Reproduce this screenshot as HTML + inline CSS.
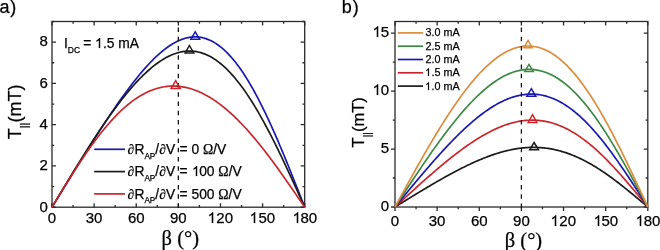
<!DOCTYPE html>
<html><head><meta charset="utf-8"><style>
html,body{margin:0;padding:0;background:#fff;}
body{width:660px;height:250px;overflow:hidden;}
svg{display:block;will-change:transform;filter:blur(0.35px);}
svg text{stroke:#000;stroke-width:0.25px;}
svg text tspan.t1{stroke:none;fill:transparent;}
</style></head><body>
<svg width="660" height="250" viewBox="0 0 660 250">
<rect width="660" height="250" fill="#fff"/>
<rect x="52.00" y="21.50" width="252.70" height="185.70" fill="none" stroke="#2a2a2a" stroke-width="1.3"/>
<path d="M52.00,207.20 L52.00,203.20 M52.00,21.50 L52.00,25.50 M73.06,207.20 L73.06,205.00 M73.06,21.50 L73.06,23.70 M94.12,207.20 L94.12,203.20 M94.12,21.50 L94.12,25.50 M115.17,207.20 L115.17,205.00 M115.17,21.50 L115.17,23.70 M136.23,207.20 L136.23,203.20 M136.23,21.50 L136.23,25.50 M157.29,207.20 L157.29,205.00 M157.29,21.50 L157.29,23.70 M178.35,207.20 L178.35,203.20 M178.35,21.50 L178.35,25.50 M199.41,207.20 L199.41,205.00 M199.41,21.50 L199.41,23.70 M220.47,207.20 L220.47,203.20 M220.47,21.50 L220.47,25.50 M241.53,207.20 L241.53,205.00 M241.53,21.50 L241.53,23.70 M262.58,207.20 L262.58,203.20 M262.58,21.50 L262.58,25.50 M283.64,207.20 L283.64,205.00 M283.64,21.50 L283.64,23.70 M304.70,207.20 L304.70,203.20 M304.70,21.50 L304.70,25.50 M52.00,207.20 L56.00,207.20 M304.70,207.20 L300.70,207.20 M52.00,186.57 L54.20,186.57 M304.70,186.57 L302.50,186.57 M52.00,165.93 L56.00,165.93 M304.70,165.93 L300.70,165.93 M52.00,145.30 L54.20,145.30 M304.70,145.30 L302.50,145.30 M52.00,124.67 L56.00,124.67 M304.70,124.67 L300.70,124.67 M52.00,104.03 L54.20,104.03 M304.70,104.03 L302.50,104.03 M52.00,83.40 L56.00,83.40 M304.70,83.40 L300.70,83.40 M52.00,62.77 L54.20,62.77 M304.70,62.77 L302.50,62.77 M52.00,42.13 L56.00,42.13 M304.70,42.13 L300.70,42.13 M52.00,21.50 L54.20,21.50 M304.70,21.50 L302.50,21.50" stroke="#2a2a2a" stroke-width="1.3" fill="none"/>
<path d="M52.00,207.20 L53.40,204.91 L54.81,202.62 L56.21,200.33 L57.62,198.04 L59.02,195.75 L60.42,193.46 L61.83,191.17 L63.23,188.88 L64.63,186.60 L66.04,184.31 L67.44,182.03 L68.85,179.75 L70.25,177.47 L71.65,175.20 L73.06,172.92 L74.46,170.65 L75.87,168.39 L77.27,166.12 L78.67,163.86 L80.08,161.60 L81.48,159.35 L82.89,157.10 L84.29,154.86 L85.69,152.62 L87.10,150.39 L88.50,148.16 L89.91,145.94 L91.31,143.72 L92.71,141.51 L94.12,139.31 L95.52,137.11 L96.92,134.92 L98.33,132.74 L99.73,130.57 L101.14,128.41 L102.54,126.25 L103.94,124.11 L105.35,121.97 L106.75,119.85 L108.16,117.74 L109.56,115.64 L110.96,113.55 L112.37,111.47 L113.77,109.41 L115.17,107.36 L116.58,105.33 L117.98,103.31 L119.39,101.30 L120.79,99.31 L122.19,97.34 L123.60,95.39 L125.00,93.45 L126.41,91.54 L127.81,89.64 L129.21,87.76 L130.62,85.90 L132.02,84.07 L133.43,82.26 L134.83,80.47 L136.23,78.70 L137.64,76.96 L139.04,75.24 L140.44,73.56 L141.85,71.89 L143.25,70.26 L144.66,68.65 L146.06,67.07 L147.46,65.53 L148.87,64.01 L150.27,62.53 L151.68,61.08 L153.08,59.66 L154.48,58.27 L155.89,56.93 L157.29,55.61 L158.70,54.34 L160.10,53.10 L161.50,51.90 L162.91,50.74 L164.31,49.63 L165.72,48.55 L167.12,47.51 L168.52,46.52 L169.93,45.57 L171.33,44.67 L172.73,43.81 L174.14,43.00 L175.54,42.24 L176.95,41.52 L178.35,40.85 L179.75,40.24 L181.16,39.67 L182.56,39.15 L183.97,38.69 L185.37,38.28 L186.77,37.92 L188.18,37.61 L189.58,37.36 L190.98,37.17 L192.39,37.03 L193.79,36.95 L195.20,36.92 L196.60,36.96 L198.00,37.05 L199.41,37.20 L200.81,37.41 L202.22,37.68 L203.62,38.01 L205.02,38.40 L206.43,38.85 L207.83,39.37 L209.24,39.94 L210.64,40.58 L212.04,41.28 L213.45,42.04 L214.85,42.87 L216.25,43.76 L217.66,44.71 L219.06,45.73 L220.47,46.81 L221.87,47.95 L223.27,49.15 L224.68,50.42 L226.08,51.76 L227.49,53.15 L228.89,54.61 L230.29,56.13 L231.70,57.72 L233.10,59.36 L234.51,61.07 L235.91,62.84 L237.31,64.67 L238.72,66.56 L240.12,68.52 L241.53,70.53 L242.93,72.60 L244.33,74.73 L245.74,76.92 L247.14,79.16 L248.54,81.47 L249.95,83.82 L251.35,86.24 L252.76,88.70 L254.16,91.22 L255.56,93.80 L256.97,96.42 L258.37,99.09 L259.78,101.82 L261.18,104.59 L262.58,107.41 L263.99,110.27 L265.39,113.19 L266.79,116.14 L268.20,119.14 L269.60,122.17 L271.01,125.25 L272.41,128.37 L273.81,131.52 L275.22,134.71 L276.62,137.93 L278.03,141.19 L279.43,144.47 L280.83,147.79 L282.24,151.14 L283.64,154.51 L285.05,157.91 L286.45,161.33 L287.85,164.77 L289.26,168.23 L290.66,171.72 L292.06,175.21 L293.47,178.73 L294.87,182.26 L296.28,185.80 L297.68,189.35 L299.08,192.91 L300.49,196.48 L301.89,200.05 L303.30,203.62 L304.70,207.20" fill="none" stroke="#1919b0" stroke-width="1.7" stroke-linejoin="round"/>
<path d="M52.00,207.20 L53.40,204.86 L54.81,202.51 L56.21,200.17 L57.62,197.83 L59.02,195.49 L60.42,193.15 L61.83,190.82 L63.23,188.49 L64.63,186.16 L66.04,183.83 L67.44,181.51 L68.85,179.20 L70.25,176.88 L71.65,174.58 L73.06,172.28 L74.46,169.99 L75.87,167.70 L77.27,165.42 L78.67,163.15 L80.08,160.88 L81.48,158.63 L82.89,156.38 L84.29,154.14 L85.69,151.92 L87.10,149.70 L88.50,147.49 L89.91,145.30 L91.31,143.12 L92.71,140.95 L94.12,138.79 L95.52,136.64 L96.92,134.51 L98.33,132.39 L99.73,130.29 L101.14,128.20 L102.54,126.13 L103.94,124.07 L105.35,122.03 L106.75,120.01 L108.16,118.01 L109.56,116.02 L110.96,114.05 L112.37,112.10 L113.77,110.17 L115.17,108.27 L116.58,106.38 L117.98,104.51 L119.39,102.67 L120.79,100.84 L122.19,99.04 L123.60,97.27 L125.00,95.52 L126.41,93.79 L127.81,92.09 L129.21,90.41 L130.62,88.76 L132.02,87.14 L133.43,85.55 L134.83,83.98 L136.23,82.44 L137.64,80.93 L139.04,79.46 L140.44,78.01 L141.85,76.59 L143.25,75.21 L144.66,73.85 L146.06,72.53 L147.46,71.25 L148.87,70.00 L150.27,68.78 L151.68,67.60 L153.08,66.45 L154.48,65.34 L155.89,64.27 L157.29,63.23 L158.70,62.23 L160.10,61.27 L161.50,60.36 L162.91,59.48 L164.31,58.64 L165.72,57.84 L167.12,57.08 L168.52,56.37 L169.93,55.70 L171.33,55.07 L172.73,54.49 L174.14,53.95 L175.54,53.45 L176.95,53.00 L178.35,52.59 L179.75,52.24 L181.16,51.92 L182.56,51.66 L183.97,51.44 L185.37,51.27 L186.77,51.15 L188.18,51.08 L189.58,51.06 L190.98,51.08 L192.39,51.16 L193.79,51.28 L195.20,51.46 L196.60,51.69 L198.00,51.97 L199.41,52.29 L200.81,52.68 L202.22,53.11 L203.62,53.59 L205.02,54.13 L206.43,54.72 L207.83,55.36 L209.24,56.05 L210.64,56.80 L212.04,57.60 L213.45,58.45 L214.85,59.36 L216.25,60.31 L217.66,61.32 L219.06,62.39 L220.47,63.50 L221.87,64.67 L223.27,65.89 L224.68,67.16 L226.08,68.49 L227.49,69.86 L228.89,71.29 L230.29,72.77 L231.70,74.30 L233.10,75.88 L234.51,77.51 L235.91,79.19 L237.31,80.92 L238.72,82.69 L240.12,84.52 L241.53,86.39 L242.93,88.32 L244.33,90.29 L245.74,92.30 L247.14,94.36 L248.54,96.47 L249.95,98.62 L251.35,100.81 L252.76,103.05 L254.16,105.33 L255.56,107.65 L256.97,110.01 L258.37,112.41 L259.78,114.85 L261.18,117.33 L262.58,119.85 L263.99,122.40 L265.39,124.98 L266.79,127.61 L268.20,130.26 L269.60,132.95 L271.01,135.66 L272.41,138.41 L273.81,141.19 L275.22,143.99 L276.62,146.83 L278.03,149.68 L279.43,152.56 L280.83,155.47 L282.24,158.40 L283.64,161.34 L285.05,164.31 L286.45,167.30 L287.85,170.30 L289.26,173.32 L290.66,176.35 L292.06,179.40 L293.47,182.46 L294.87,185.53 L296.28,188.61 L297.68,191.69 L299.08,194.79 L300.49,197.88 L301.89,200.99 L303.30,204.09 L304.70,207.20" fill="none" stroke="#1c1c1c" stroke-width="1.7" stroke-linejoin="round"/>
<path d="M52.00,207.20 L53.40,204.89 L54.81,202.58 L56.21,200.27 L57.62,197.96 L59.02,195.66 L60.42,193.36 L61.83,191.07 L63.23,188.79 L64.63,186.51 L66.04,184.24 L67.44,181.98 L68.85,179.73 L70.25,177.50 L71.65,175.27 L73.06,173.06 L74.46,170.86 L75.87,168.68 L77.27,166.51 L78.67,164.36 L80.08,162.22 L81.48,160.11 L82.89,158.01 L84.29,155.93 L85.69,153.88 L87.10,151.84 L88.50,149.83 L89.91,147.83 L91.31,145.87 L92.71,143.92 L94.12,142.00 L95.52,140.11 L96.92,138.24 L98.33,136.40 L99.73,134.59 L101.14,132.80 L102.54,131.04 L103.94,129.31 L105.35,127.61 L106.75,125.94 L108.16,124.30 L109.56,122.69 L110.96,121.12 L112.37,119.57 L113.77,118.06 L115.17,116.57 L116.58,115.12 L117.98,113.71 L119.39,112.33 L120.79,110.98 L122.19,109.66 L123.60,108.38 L125.00,107.14 L126.41,105.93 L127.81,104.75 L129.21,103.61 L130.62,102.50 L132.02,101.43 L133.43,100.40 L134.83,99.40 L136.23,98.44 L137.64,97.51 L139.04,96.62 L140.44,95.76 L141.85,94.94 L143.25,94.16 L144.66,93.42 L146.06,92.71 L147.46,92.03 L148.87,91.40 L150.27,90.79 L151.68,90.23 L153.08,89.70 L154.48,89.21 L155.89,88.75 L157.29,88.33 L158.70,87.95 L160.10,87.60 L161.50,87.29 L162.91,87.01 L164.31,86.77 L165.72,86.56 L167.12,86.39 L168.52,86.26 L169.93,86.16 L171.33,86.09 L172.73,86.06 L174.14,86.07 L175.54,86.11 L176.95,86.18 L178.35,86.29 L179.75,86.43 L181.16,86.61 L182.56,86.82 L183.97,87.06 L185.37,87.34 L186.77,87.65 L188.18,87.99 L189.58,88.37 L190.98,88.78 L192.39,89.22 L193.79,89.70 L195.20,90.21 L196.60,90.75 L198.00,91.32 L199.41,91.92 L200.81,92.56 L202.22,93.22 L203.62,93.92 L205.02,94.65 L206.43,95.41 L207.83,96.20 L209.24,97.02 L210.64,97.87 L212.04,98.75 L213.45,99.66 L214.85,100.60 L216.25,101.57 L217.66,102.57 L219.06,103.60 L220.47,104.65 L221.87,105.74 L223.27,106.85 L224.68,107.99 L226.08,109.16 L227.49,110.36 L228.89,111.58 L230.29,112.83 L231.70,114.10 L233.10,115.41 L234.51,116.73 L235.91,118.09 L237.31,119.47 L238.72,120.87 L240.12,122.30 L241.53,123.75 L242.93,125.23 L244.33,126.73 L245.74,128.26 L247.14,129.80 L248.54,131.37 L249.95,132.97 L251.35,134.58 L252.76,136.21 L254.16,137.87 L255.56,139.55 L256.97,141.24 L258.37,142.96 L259.78,144.69 L261.18,146.45 L262.58,148.22 L263.99,150.01 L265.39,151.82 L266.79,153.64 L268.20,155.48 L269.60,157.34 L271.01,159.21 L272.41,161.10 L273.81,163.00 L275.22,164.91 L276.62,166.84 L278.03,168.78 L279.43,170.73 L280.83,172.69 L282.24,174.67 L283.64,176.65 L285.05,178.64 L286.45,180.64 L287.85,182.66 L289.26,184.67 L290.66,186.70 L292.06,188.73 L293.47,190.77 L294.87,192.81 L296.28,194.86 L297.68,196.91 L299.08,198.96 L300.49,201.02 L301.89,203.08 L303.30,205.14 L304.70,207.20" fill="none" stroke="#c8262c" stroke-width="1.7" stroke-linejoin="round"/>
<line x1="178.35" y1="207.90" x2="178.35" y2="21.50" stroke="#151515" stroke-width="1.3" stroke-dasharray="4.5 4.76"/>
<path d="M195.25,31.80 L199.60,39.20 L190.90,39.20 Z" fill="none" stroke="#1919b0" stroke-width="1.5" stroke-linejoin="miter"/>
<path d="M189.45,45.50 L193.80,53.10 L185.10,53.10 Z" fill="none" stroke="#1c1c1c" stroke-width="1.5" stroke-linejoin="miter"/>
<path d="M175.65,80.70 L180.20,88.60 L171.10,88.60 Z" fill="none" stroke="#c8262c" stroke-width="1.5" stroke-linejoin="miter"/>
<text x="47.80" y="211.57" font-family='"Liberation Sans", sans-serif' font-size="15" text-anchor="end" >0</text>
<text x="47.80" y="170.30" font-family='"Liberation Sans", sans-serif' font-size="15" text-anchor="end" >2</text>
<text x="47.80" y="129.04" font-family='"Liberation Sans", sans-serif' font-size="15" text-anchor="end" >4</text>
<text x="47.80" y="87.77" font-family='"Liberation Sans", sans-serif' font-size="15" text-anchor="end" >6</text>
<text x="47.80" y="45.80" font-family='"Liberation Sans", sans-serif' font-size="15" text-anchor="end" >8</text>
<text x="52.00" y="223.00" font-family='"Liberation Sans", sans-serif' font-size="15" text-anchor="middle" >0</text>
<text x="94.12" y="223.00" font-family='"Liberation Sans", sans-serif' font-size="15" text-anchor="middle" >30</text>
<text x="136.23" y="223.00" font-family='"Liberation Sans", sans-serif' font-size="15" text-anchor="middle" >60</text>
<text x="178.35" y="223.00" font-family='"Liberation Sans", sans-serif' font-size="15" text-anchor="middle" >90</text>
<text x="220.47" y="223.00" font-family='"Liberation Sans", sans-serif' font-size="15" text-anchor="middle" ><tspan class="t1">1</tspan>20</text>
<text x="262.58" y="223.00" font-family='"Liberation Sans", sans-serif' font-size="15" text-anchor="middle" ><tspan class="t1">1</tspan>50</text>
<text x="304.70" y="223.00" font-family='"Liberation Sans", sans-serif' font-size="15" text-anchor="middle" ><tspan class="t1">1</tspan>80</text>
<text x="-0.60" y="13.20" font-family='"Liberation Sans", sans-serif' font-size="18" text-anchor="start" >a<tspan dx="0.9">)</tspan></text>
<text x="180.30" y="244.50" font-family='"Liberation Serif", serif' font-size="20.5" text-anchor="middle" >&#946; (&#176;)</text>
<g transform="translate(20.7,139.3) rotate(-90)"><text x="0" y="0" font-family='"Liberation Sans", sans-serif' font-size="18">T<tspan font-size="11" dy="7">||</tspan><tspan dy="-7">(mT)</tspan></text></g>
<text x="64.0" y="47.5" font-family='"Liberation Sans", sans-serif' font-size="13.8">I<tspan font-size="8.5" dy="5.8">DC</tspan><tspan dy="-5.8" x="83.3">= <tspan class="t1">1</tspan>.5 mA</tspan></text>
<line x1="94.2" y1="149.30" x2="125" y2="149.30" stroke="#1919b0" stroke-width="1.7"/>
<text x="127.6" y="153.90" font-family='"Liberation Sans", sans-serif' font-size="13.8"><tspan font-family='"Liberation Serif", serif'>&#8706;</tspan>R<tspan font-size="8.2" dy="4.6">AP</tspan><tspan dy="-4.6">/</tspan><tspan font-family='"Liberation Serif", serif'>&#8706;</tspan>V<tspan x="179.60">= 0 </tspan><tspan font-family='"Liberation Serif", serif'>&#937;</tspan>/V</text>
<line x1="94.2" y1="171.60" x2="125" y2="171.60" stroke="#1c1c1c" stroke-width="1.7"/>
<text x="127.6" y="176.20" font-family='"Liberation Sans", sans-serif' font-size="13.8"><tspan font-family='"Liberation Serif", serif'>&#8706;</tspan>R<tspan font-size="8.2" dy="4.6">AP</tspan><tspan dy="-4.6">/</tspan><tspan font-family='"Liberation Serif", serif'>&#8706;</tspan>V<tspan x="179.60">= <tspan class="t1">1</tspan>00 </tspan><tspan font-family='"Liberation Serif", serif'>&#937;</tspan>/V</text>
<line x1="94.2" y1="193.90" x2="125" y2="193.90" stroke="#c8262c" stroke-width="1.7"/>
<text x="127.6" y="198.50" font-family='"Liberation Sans", sans-serif' font-size="13.8"><tspan font-family='"Liberation Serif", serif'>&#8706;</tspan>R<tspan font-size="8.2" dy="4.6">AP</tspan><tspan dy="-4.6">/</tspan><tspan font-family='"Liberation Serif", serif'>&#8706;</tspan>V<tspan x="179.60">= 500 </tspan><tspan font-family='"Liberation Serif", serif'>&#937;</tspan>/V</text>
<rect x="395.00" y="21.50" width="252.80" height="185.50" fill="none" stroke="#2a2a2a" stroke-width="1.3"/>
<path d="M395.00,207.00 L395.00,211.00 M395.00,21.50 L395.00,25.50 M416.07,207.00 L416.07,209.20 M416.07,21.50 L416.07,23.70 M437.13,207.00 L437.13,211.00 M437.13,21.50 L437.13,25.50 M458.20,207.00 L458.20,209.20 M458.20,21.50 L458.20,23.70 M479.27,207.00 L479.27,211.00 M479.27,21.50 L479.27,25.50 M500.33,207.00 L500.33,209.20 M500.33,21.50 L500.33,23.70 M521.40,207.00 L521.40,211.00 M521.40,21.50 L521.40,25.50 M542.47,207.00 L542.47,209.20 M542.47,21.50 L542.47,23.70 M563.53,207.00 L563.53,211.00 M563.53,21.50 L563.53,25.50 M584.60,207.00 L584.60,209.20 M584.60,21.50 L584.60,23.70 M605.67,207.00 L605.67,211.00 M605.67,21.50 L605.67,25.50 M626.73,207.00 L626.73,209.20 M626.73,21.50 L626.73,23.70 M647.80,207.00 L647.80,211.00 M647.80,21.50 L647.80,25.50 M395.00,207.00 L391.00,207.00 M647.80,207.00 L643.80,207.00 M395.00,178.02 L392.80,178.02 M647.80,178.02 L645.60,178.02 M395.00,149.03 L391.00,149.03 M647.80,149.03 L643.80,149.03 M395.00,120.05 L392.80,120.05 M647.80,120.05 L645.60,120.05 M395.00,91.06 L391.00,91.06 M647.80,91.06 L643.80,91.06 M395.00,62.08 L392.80,62.08 M647.80,62.08 L645.60,62.08 M395.00,33.09 L391.00,33.09 M647.80,33.09 L643.80,33.09" stroke="#2a2a2a" stroke-width="1.3" fill="none"/>
<path d="M395.00,207.00 L396.40,206.13 L397.81,205.27 L399.21,204.40 L400.62,203.54 L402.02,202.67 L403.43,201.81 L404.83,200.94 L406.24,200.08 L407.64,199.22 L409.04,198.36 L410.45,197.50 L411.85,196.64 L413.26,195.78 L414.66,194.93 L416.07,194.08 L417.47,193.22 L418.88,192.37 L420.28,191.53 L421.68,190.68 L423.09,189.84 L424.49,189.00 L425.90,188.16 L427.30,187.32 L428.71,186.49 L430.11,185.66 L431.52,184.84 L432.92,184.01 L434.32,183.19 L435.73,182.38 L437.13,181.57 L438.54,180.76 L439.94,179.96 L441.35,179.16 L442.75,178.37 L444.16,177.58 L445.56,176.79 L446.96,176.01 L448.37,175.24 L449.77,174.47 L451.18,173.71 L452.58,172.95 L453.99,172.20 L455.39,171.46 L456.80,170.72 L458.20,169.99 L459.60,169.27 L461.01,168.55 L462.41,167.84 L463.82,167.14 L465.22,166.45 L466.63,165.77 L468.03,165.09 L469.44,164.42 L470.84,163.76 L472.24,163.11 L473.65,162.47 L475.05,161.84 L476.46,161.22 L477.86,160.61 L479.27,160.01 L480.67,159.42 L482.08,158.84 L483.48,158.27 L484.88,157.72 L486.29,157.17 L487.69,156.64 L489.10,156.12 L490.50,155.61 L491.91,155.12 L493.31,154.64 L494.72,154.17 L496.12,153.71 L497.52,153.27 L498.93,152.84 L500.33,152.43 L501.74,152.03 L503.14,151.65 L504.55,151.28 L505.95,150.92 L507.36,150.58 L508.76,150.26 L510.16,149.96 L511.57,149.66 L512.97,149.39 L514.38,149.13 L515.78,148.89 L517.19,148.67 L518.59,148.46 L520.00,148.27 L521.40,148.10 L522.80,147.95 L524.21,147.82 L525.61,147.70 L527.02,147.60 L528.42,147.52 L529.83,147.46 L531.23,147.42 L532.64,147.40 L534.04,147.40 L535.44,147.41 L536.85,147.45 L538.25,147.50 L539.66,147.58 L541.06,147.68 L542.47,147.79 L543.87,147.93 L545.28,148.08 L546.68,148.26 L548.08,148.46 L549.49,148.67 L550.89,148.91 L552.30,149.17 L553.70,149.45 L555.11,149.75 L556.51,150.07 L557.92,150.41 L559.32,150.77 L560.72,151.15 L562.13,151.56 L563.53,151.98 L564.94,152.42 L566.34,152.88 L567.75,153.37 L569.15,153.87 L570.56,154.40 L571.96,154.94 L573.36,155.51 L574.77,156.09 L576.17,156.69 L577.58,157.32 L578.98,157.96 L580.39,158.62 L581.79,159.30 L583.20,160.00 L584.60,160.72 L586.00,161.45 L587.41,162.21 L588.81,162.98 L590.22,163.77 L591.62,164.58 L593.03,165.40 L594.43,166.24 L595.84,167.10 L597.24,167.97 L598.64,168.86 L600.05,169.77 L601.45,170.69 L602.86,171.62 L604.26,172.57 L605.67,173.54 L607.07,174.51 L608.48,175.51 L609.88,176.51 L611.28,177.53 L612.69,178.56 L614.09,179.60 L615.50,180.65 L616.90,181.72 L618.31,182.79 L619.71,183.88 L621.12,184.97 L622.52,186.07 L623.92,187.19 L625.33,188.31 L626.73,189.44 L628.14,190.57 L629.54,191.72 L630.95,192.87 L632.35,194.02 L633.76,195.19 L635.16,196.35 L636.56,197.52 L637.97,198.70 L639.37,199.88 L640.78,201.06 L642.18,202.25 L643.59,203.43 L644.99,204.62 L646.40,205.81 L647.80,207.00" fill="none" stroke="#1c1c1c" stroke-width="1.7" stroke-linejoin="round"/>
<path d="M395.00,207.00 L396.40,205.71 L397.81,204.42 L399.21,203.13 L400.62,201.84 L402.02,200.55 L403.43,199.26 L404.83,197.97 L406.24,196.69 L407.64,195.41 L409.04,194.12 L410.45,192.84 L411.85,191.57 L413.26,190.29 L414.66,189.02 L416.07,187.75 L417.47,186.48 L418.88,185.22 L420.28,183.96 L421.68,182.70 L423.09,181.45 L424.49,180.21 L425.90,178.96 L427.30,177.72 L428.71,176.49 L430.11,175.26 L431.52,174.04 L432.92,172.82 L434.32,171.61 L435.73,170.41 L437.13,169.21 L438.54,168.02 L439.94,166.83 L441.35,165.65 L442.75,164.48 L444.16,163.32 L445.56,162.17 L446.96,161.02 L448.37,159.89 L449.77,158.76 L451.18,157.64 L452.58,156.53 L453.99,155.43 L455.39,154.34 L456.80,153.27 L458.20,152.20 L459.60,151.14 L461.01,150.10 L462.41,149.07 L463.82,148.05 L465.22,147.04 L466.63,146.04 L468.03,145.06 L469.44,144.09 L470.84,143.14 L472.24,142.20 L473.65,141.27 L475.05,140.36 L476.46,139.46 L477.86,138.58 L479.27,137.72 L480.67,136.87 L482.08,136.04 L483.48,135.23 L484.88,134.43 L486.29,133.65 L487.69,132.89 L489.10,132.15 L490.50,131.43 L491.91,130.72 L493.31,130.04 L494.72,129.37 L496.12,128.73 L497.52,128.10 L498.93,127.50 L500.33,126.92 L501.74,126.36 L503.14,125.82 L504.55,125.31 L505.95,124.81 L507.36,124.34 L508.76,123.90 L510.16,123.47 L511.57,123.07 L512.97,122.70 L514.38,122.35 L515.78,122.02 L517.19,121.72 L518.59,121.45 L520.00,121.20 L521.40,120.97 L522.80,120.78 L524.21,120.61 L525.61,120.46 L527.02,120.34 L528.42,120.25 L529.83,120.19 L531.23,120.16 L532.64,120.15 L534.04,120.17 L535.44,120.22 L536.85,120.30 L538.25,120.40 L539.66,120.54 L541.06,120.70 L542.47,120.89 L543.87,121.11 L545.28,121.36 L546.68,121.64 L548.08,121.95 L549.49,122.29 L550.89,122.65 L552.30,123.05 L553.70,123.48 L555.11,123.93 L556.51,124.42 L557.92,124.93 L559.32,125.47 L560.72,126.05 L562.13,126.65 L563.53,127.28 L564.94,127.94 L566.34,128.63 L567.75,129.35 L569.15,130.09 L570.56,130.87 L571.96,131.67 L573.36,132.50 L574.77,133.36 L576.17,134.25 L577.58,135.16 L578.98,136.11 L580.39,137.07 L581.79,138.07 L583.20,139.09 L584.60,140.14 L586.00,141.22 L587.41,142.32 L588.81,143.44 L590.22,144.59 L591.62,145.77 L593.03,146.97 L594.43,148.19 L595.84,149.43 L597.24,150.70 L598.64,151.99 L600.05,153.31 L601.45,154.64 L602.86,155.99 L604.26,157.37 L605.67,158.77 L607.07,160.18 L608.48,161.62 L609.88,163.07 L611.28,164.54 L612.69,166.03 L614.09,167.53 L615.50,169.05 L616.90,170.59 L618.31,172.14 L619.71,173.70 L621.12,175.28 L622.52,176.87 L623.92,178.48 L625.33,180.09 L626.73,181.72 L628.14,183.36 L629.54,185.01 L630.95,186.66 L632.35,188.33 L633.76,190.00 L635.16,191.68 L636.56,193.37 L637.97,195.06 L639.37,196.75 L640.78,198.46 L642.18,200.16 L643.59,201.87 L644.99,203.58 L646.40,205.29 L647.80,207.00" fill="none" stroke="#c8262c" stroke-width="1.7" stroke-linejoin="round"/>
<path d="M395.00,207.00 L396.40,205.29 L397.81,203.58 L399.21,201.88 L400.62,200.17 L402.02,198.47 L403.43,196.76 L404.83,195.06 L406.24,193.36 L407.64,191.67 L409.04,189.97 L410.45,188.28 L411.85,186.59 L413.26,184.91 L414.66,183.23 L416.07,181.55 L417.47,179.88 L418.88,178.21 L420.28,176.55 L421.68,174.89 L423.09,173.24 L424.49,171.60 L425.90,169.96 L427.30,168.33 L428.71,166.70 L430.11,165.09 L431.52,163.48 L432.92,161.88 L434.32,160.28 L435.73,158.70 L437.13,157.13 L438.54,155.56 L439.94,154.01 L441.35,152.46 L442.75,150.93 L444.16,149.41 L445.56,147.90 L446.96,146.40 L448.37,144.91 L449.77,143.44 L451.18,141.98 L452.58,140.53 L453.99,139.09 L455.39,137.67 L456.80,136.27 L458.20,134.88 L459.60,133.50 L461.01,132.15 L462.41,130.80 L463.82,129.48 L465.22,128.17 L466.63,126.88 L468.03,125.61 L469.44,124.35 L470.84,123.12 L472.24,121.90 L473.65,120.71 L475.05,119.53 L476.46,118.38 L477.86,117.25 L479.27,116.13 L480.67,115.04 L482.08,113.98 L483.48,112.93 L484.88,111.91 L486.29,110.92 L487.69,109.94 L489.10,108.99 L490.50,108.07 L491.91,107.18 L493.31,106.30 L494.72,105.46 L496.12,104.64 L497.52,103.85 L498.93,103.09 L500.33,102.36 L501.74,101.65 L503.14,100.98 L504.55,100.33 L505.95,99.71 L507.36,99.12 L508.76,98.57 L510.16,98.04 L511.57,97.55 L512.97,97.09 L514.38,96.66 L515.78,96.26 L517.19,95.90 L518.59,95.57 L520.00,95.27 L521.40,95.00 L522.80,94.77 L524.21,94.58 L525.61,94.42 L527.02,94.29 L528.42,94.20 L529.83,94.15 L531.23,94.13 L532.64,94.14 L534.04,94.20 L535.44,94.29 L536.85,94.41 L538.25,94.58 L539.66,94.77 L541.06,95.01 L542.47,95.28 L543.87,95.60 L545.28,95.94 L546.68,96.33 L548.08,96.75 L549.49,97.21 L550.89,97.71 L552.30,98.25 L553.70,98.82 L555.11,99.43 L556.51,100.08 L557.92,100.77 L559.32,101.49 L560.72,102.25 L562.13,103.05 L563.53,103.88 L564.94,104.76 L566.34,105.67 L567.75,106.61 L569.15,107.59 L570.56,108.61 L571.96,109.67 L573.36,110.76 L574.77,111.88 L576.17,113.05 L577.58,114.24 L578.98,115.47 L580.39,116.74 L581.79,118.04 L583.20,119.37 L584.60,120.73 L586.00,122.13 L587.41,123.56 L588.81,125.03 L590.22,126.52 L591.62,128.05 L593.03,129.60 L594.43,131.19 L595.84,132.80 L597.24,134.44 L598.64,136.12 L600.05,137.82 L601.45,139.54 L602.86,141.29 L604.26,143.07 L605.67,144.88 L607.07,146.71 L608.48,148.56 L609.88,150.43 L611.28,152.33 L612.69,154.25 L614.09,156.19 L615.50,158.15 L616.90,160.13 L618.31,162.13 L619.71,164.15 L621.12,166.18 L622.52,168.23 L623.92,170.30 L625.33,172.38 L626.73,174.48 L628.14,176.59 L629.54,178.71 L630.95,180.84 L632.35,182.98 L633.76,185.13 L635.16,187.29 L636.56,189.46 L637.97,191.64 L639.37,193.82 L640.78,196.01 L642.18,198.20 L643.59,200.40 L644.99,202.60 L646.40,204.80 L647.80,207.00" fill="none" stroke="#1919b0" stroke-width="1.7" stroke-linejoin="round"/>
<path d="M395.00,207.00 L396.40,204.85 L397.81,202.70 L399.21,200.55 L400.62,198.40 L402.02,196.25 L403.43,194.10 L404.83,191.96 L406.24,189.82 L407.64,187.69 L409.04,185.55 L410.45,183.43 L411.85,181.30 L413.26,179.19 L414.66,177.07 L416.07,174.97 L417.47,172.87 L418.88,170.78 L420.28,168.69 L421.68,166.62 L423.09,164.55 L424.49,162.49 L425.90,160.44 L427.30,158.40 L428.71,156.37 L430.11,154.35 L431.52,152.34 L432.92,150.35 L434.32,148.37 L435.73,146.40 L437.13,144.44 L438.54,142.49 L439.94,140.56 L441.35,138.65 L442.75,136.75 L444.16,134.87 L445.56,133.00 L446.96,131.15 L448.37,129.31 L449.77,127.49 L451.18,125.70 L452.58,123.92 L453.99,122.16 L455.39,120.41 L456.80,118.69 L458.20,116.99 L459.60,115.31 L461.01,113.66 L462.41,112.02 L463.82,110.41 L465.22,108.82 L466.63,107.25 L468.03,105.71 L469.44,104.20 L470.84,102.71 L472.24,101.24 L473.65,99.80 L475.05,98.39 L476.46,97.01 L477.86,95.65 L479.27,94.32 L480.67,93.02 L482.08,91.75 L483.48,90.51 L484.88,89.30 L486.29,88.12 L487.69,86.98 L489.10,85.86 L490.50,84.78 L491.91,83.73 L493.31,82.71 L494.72,81.73 L496.12,80.78 L497.52,79.87 L498.93,78.99 L500.33,78.15 L501.74,77.34 L503.14,76.57 L504.55,75.84 L505.95,75.15 L507.36,74.49 L508.76,73.87 L510.16,73.29 L511.57,72.75 L512.97,72.24 L514.38,71.78 L515.78,71.36 L517.19,70.98 L518.59,70.64 L520.00,70.34 L521.40,70.08 L522.80,69.86 L524.21,69.69 L525.61,69.55 L527.02,69.46 L528.42,69.42 L529.83,69.41 L531.23,69.45 L532.64,69.53 L534.04,69.66 L535.44,69.83 L536.85,70.04 L538.25,70.30 L539.66,70.60 L541.06,70.95 L542.47,71.34 L543.87,71.77 L545.28,72.25 L546.68,72.78 L548.08,73.34 L549.49,73.96 L550.89,74.61 L552.30,75.32 L553.70,76.06 L555.11,76.85 L556.51,77.69 L557.92,78.57 L559.32,79.49 L560.72,80.46 L562.13,81.47 L563.53,82.52 L564.94,83.62 L566.34,84.76 L567.75,85.94 L569.15,87.17 L570.56,88.44 L571.96,89.75 L573.36,91.10 L574.77,92.49 L576.17,93.93 L577.58,95.40 L578.98,96.92 L580.39,98.47 L581.79,100.07 L583.20,101.70 L584.60,103.37 L586.00,105.08 L587.41,106.82 L588.81,108.61 L590.22,110.43 L591.62,112.28 L593.03,114.17 L594.43,116.09 L595.84,118.05 L597.24,120.04 L598.64,122.06 L600.05,124.12 L601.45,126.20 L602.86,128.32 L604.26,130.47 L605.67,132.64 L607.07,134.84 L608.48,137.07 L609.88,139.33 L611.28,141.61 L612.69,143.92 L614.09,146.25 L615.50,148.60 L616.90,150.98 L618.31,153.37 L619.71,155.79 L621.12,158.23 L622.52,160.69 L623.92,163.16 L625.33,165.65 L626.73,168.16 L628.14,170.68 L629.54,173.21 L630.95,175.76 L632.35,178.32 L633.76,180.89 L635.16,183.48 L636.56,186.07 L637.97,188.67 L639.37,191.27 L640.78,193.88 L642.18,196.50 L643.59,199.12 L644.99,201.75 L646.40,204.37 L647.80,207.00" fill="none" stroke="#3e8845" stroke-width="1.7" stroke-linejoin="round"/>
<path d="M395.00,207.00 L396.40,204.43 L397.81,201.86 L399.21,199.29 L400.62,196.73 L402.02,194.16 L403.43,191.60 L404.83,189.04 L406.24,186.49 L407.64,183.94 L409.04,181.40 L410.45,178.86 L411.85,176.33 L413.26,173.80 L414.66,171.28 L416.07,168.77 L417.47,166.27 L418.88,163.78 L420.28,161.30 L421.68,158.83 L423.09,156.37 L424.49,153.92 L425.90,151.48 L427.30,149.06 L428.71,146.65 L430.11,144.25 L431.52,141.87 L432.92,139.50 L434.32,137.15 L435.73,134.81 L437.13,132.49 L438.54,130.19 L439.94,127.91 L441.35,125.65 L442.75,123.40 L444.16,121.18 L445.56,118.97 L446.96,116.79 L448.37,114.62 L449.77,112.48 L451.18,110.37 L452.58,108.27 L453.99,106.21 L455.39,104.16 L456.80,102.14 L458.20,100.15 L459.60,98.18 L461.01,96.24 L462.41,94.33 L463.82,92.45 L465.22,90.59 L466.63,88.77 L468.03,86.97 L469.44,85.21 L470.84,83.47 L472.24,81.77 L473.65,80.10 L475.05,78.47 L476.46,76.86 L477.86,75.30 L479.27,73.76 L480.67,72.26 L482.08,70.80 L483.48,69.38 L484.88,67.99 L486.29,66.64 L487.69,65.33 L489.10,64.05 L490.50,62.82 L491.91,61.62 L493.31,60.47 L494.72,59.35 L496.12,58.28 L497.52,57.25 L498.93,56.26 L500.33,55.31 L501.74,54.41 L503.14,53.55 L504.55,52.74 L505.95,51.97 L507.36,51.24 L508.76,50.56 L510.16,49.93 L511.57,49.34 L512.97,48.80 L514.38,48.30 L515.78,47.85 L517.19,47.45 L518.59,47.10 L520.00,46.80 L521.40,46.54 L522.80,46.34 L524.21,46.18 L525.61,46.07 L527.02,46.01 L528.42,46.01 L529.83,46.05 L531.23,46.14 L532.64,46.28 L534.04,46.48 L535.44,46.72 L536.85,47.01 L538.25,47.36 L539.66,47.76 L541.06,48.21 L542.47,48.71 L543.87,49.26 L545.28,49.86 L546.68,50.51 L548.08,51.22 L549.49,51.97 L550.89,52.78 L552.30,53.64 L553.70,54.54 L555.11,55.50 L556.51,56.51 L557.92,57.57 L559.32,58.68 L560.72,59.85 L562.13,61.06 L563.53,62.32 L564.94,63.63 L566.34,64.98 L567.75,66.39 L569.15,67.85 L570.56,69.35 L571.96,70.90 L573.36,72.50 L574.77,74.15 L576.17,75.84 L577.58,77.57 L578.98,79.36 L580.39,81.18 L581.79,83.06 L583.20,84.97 L584.60,86.93 L586.00,88.93 L587.41,90.98 L588.81,93.06 L590.22,95.19 L591.62,97.35 L593.03,99.56 L594.43,101.80 L595.84,104.08 L597.24,106.40 L598.64,108.76 L600.05,111.15 L601.45,113.57 L602.86,116.03 L604.26,118.52 L605.67,121.05 L607.07,123.60 L608.48,126.19 L609.88,128.81 L611.28,131.45 L612.69,134.13 L614.09,136.83 L615.50,139.55 L616.90,142.30 L618.31,145.08 L619.71,147.87 L621.12,150.69 L622.52,153.53 L623.92,156.39 L625.33,159.27 L626.73,162.17 L628.14,165.08 L629.54,168.01 L630.95,170.95 L632.35,173.91 L633.76,176.88 L635.16,179.86 L636.56,182.85 L637.97,185.85 L639.37,188.85 L640.78,191.87 L642.18,194.89 L643.59,197.91 L644.99,200.94 L646.40,203.97 L647.80,207.00" fill="none" stroke="#dc8c3c" stroke-width="1.7" stroke-linejoin="round"/>
<line x1="521.40" y1="207.90" x2="521.40" y2="21.50" stroke="#151515" stroke-width="1.3" stroke-dasharray="4.5 4.76"/>
<path d="M528.05,40.40 L532.25,47.80 L523.85,47.80 Z" fill="none" stroke="#dc8c3c" stroke-width="1.5" stroke-linejoin="miter"/>
<path d="M529.00,64.40 L533.30,71.40 L524.70,71.40 Z" fill="none" stroke="#3e8845" stroke-width="1.5" stroke-linejoin="miter"/>
<path d="M531.35,88.70 L535.75,96.20 L526.95,96.20 Z" fill="none" stroke="#1919b0" stroke-width="1.5" stroke-linejoin="miter"/>
<path d="M532.50,114.70 L536.80,122.40 L528.20,122.40 Z" fill="none" stroke="#c8262c" stroke-width="1.5" stroke-linejoin="miter"/>
<path d="M534.10,142.50 L538.50,149.80 L529.70,149.80 Z" fill="none" stroke="#1c1c1c" stroke-width="1.5" stroke-linejoin="miter"/>
<text x="389.20" y="210.97" font-family='"Liberation Sans", sans-serif' font-size="15" text-anchor="end" >0</text>
<text x="389.20" y="153.00" font-family='"Liberation Sans", sans-serif' font-size="15" text-anchor="end" >5</text>
<text x="389.20" y="95.03" font-family='"Liberation Sans", sans-serif' font-size="15" text-anchor="end" ><tspan class="t1">1</tspan>0</text>
<text x="389.20" y="37.06" font-family='"Liberation Sans", sans-serif' font-size="15" text-anchor="end" ><tspan class="t1">1</tspan>5</text>
<text x="395.00" y="226.00" font-family='"Liberation Sans", sans-serif' font-size="15" text-anchor="middle" >0</text>
<text x="437.13" y="226.00" font-family='"Liberation Sans", sans-serif' font-size="15" text-anchor="middle" >30</text>
<text x="479.27" y="226.00" font-family='"Liberation Sans", sans-serif' font-size="15" text-anchor="middle" >60</text>
<text x="521.40" y="226.00" font-family='"Liberation Sans", sans-serif' font-size="15" text-anchor="middle" >90</text>
<text x="563.53" y="226.00" font-family='"Liberation Sans", sans-serif' font-size="15" text-anchor="middle" ><tspan class="t1">1</tspan>20</text>
<text x="605.67" y="226.00" font-family='"Liberation Sans", sans-serif' font-size="15" text-anchor="middle" ><tspan class="t1">1</tspan>50</text>
<text x="647.80" y="226.00" font-family='"Liberation Sans", sans-serif' font-size="15" text-anchor="middle" ><tspan class="t1">1</tspan>80</text>
<text x="341.80" y="13.20" font-family='"Liberation Sans", sans-serif' font-size="18" text-anchor="start" >b<tspan dx="1">)</tspan></text>
<text x="523.50" y="247.30" font-family='"Liberation Serif", serif' font-size="20.5" text-anchor="middle" >&#946; (&#176;)</text>
<g transform="translate(364.0,147.4) rotate(-90)"><text x="0" y="0" font-family='"Liberation Sans", sans-serif' font-size="16.5">T<tspan font-size="10" dy="6.5">||</tspan><tspan dy="-6.5">(mT)</tspan></text></g>
<line x1="397.8" y1="32.90" x2="423.1" y2="32.90" stroke="#dc8c3c" stroke-width="1.7"/>
<text x="425.40" y="36.40" font-family='"Liberation Sans", sans-serif' font-size="10.8" text-anchor="start" >3.0 mA</text>
<line x1="397.8" y1="46.20" x2="423.1" y2="46.20" stroke="#3e8845" stroke-width="1.7"/>
<text x="425.40" y="49.70" font-family='"Liberation Sans", sans-serif' font-size="10.8" text-anchor="start" >2.5 mA</text>
<line x1="397.8" y1="59.50" x2="423.1" y2="59.50" stroke="#1919b0" stroke-width="1.7"/>
<text x="425.40" y="63.00" font-family='"Liberation Sans", sans-serif' font-size="10.8" text-anchor="start" >2.0 mA</text>
<line x1="397.8" y1="72.80" x2="423.1" y2="72.80" stroke="#c8262c" stroke-width="1.7"/>
<text x="425.40" y="76.30" font-family='"Liberation Sans", sans-serif' font-size="10.8" text-anchor="start" ><tspan class="t1">1</tspan>.5 mA</text>
<line x1="397.8" y1="86.10" x2="423.1" y2="86.10" stroke="#1c1c1c" stroke-width="1.7"/>
<text x="425.40" y="89.60" font-family='"Liberation Sans", sans-serif' font-size="10.8" text-anchor="start" ><tspan class="t1">1</tspan>.0 mA</text>
<path transform="translate(207.570,223) scale(0.007326,-0.007326)" d="M763,0 L583,0 L583,1147 Q518,1085 412,1022 Q306,960 233,936 L233,1110 Q384,1181 497,1280 Q610,1380 646,1466 L763,1466 Z" fill="#000" stroke="#000" stroke-width="30.0"/>
<path transform="translate(249.570,223) scale(0.007326,-0.007326)" d="M763,0 L583,0 L583,1147 Q518,1085 412,1022 Q306,960 233,936 L233,1110 Q384,1181 497,1280 Q610,1380 646,1466 L763,1466 Z" fill="#000" stroke="#000" stroke-width="30.0"/>
<path transform="translate(292.570,223) scale(0.007326,-0.007326)" d="M763,0 L583,0 L583,1147 Q518,1085 412,1022 Q306,960 233,936 L233,1110 Q384,1181 497,1280 Q610,1380 646,1466 L763,1466 Z" fill="#000" stroke="#000" stroke-width="30.0"/>
<path transform="translate(94.958,48) scale(0.006749,-0.006749)" d="M763,0 L583,0 L583,1147 Q518,1085 412,1022 Q306,960 233,936 L233,1110 Q384,1181 497,1280 Q610,1380 646,1466 L763,1466 Z" fill="#000" stroke="#000" stroke-width="32.6"/>
<path transform="translate(191.958,176) scale(0.006749,-0.006749)" d="M763,0 L583,0 L583,1147 Q518,1085 412,1022 Q306,960 233,936 L233,1110 Q384,1181 497,1280 Q610,1380 646,1466 L763,1466 Z" fill="#000" stroke="#000" stroke-width="32.6"/>
<path transform="translate(372.570,95) scale(0.007326,-0.007326)" d="M763,0 L583,0 L583,1147 Q518,1085 412,1022 Q306,960 233,936 L233,1110 Q384,1181 497,1280 Q610,1380 646,1466 L763,1466 Z" fill="#000" stroke="#000" stroke-width="30.0"/>
<path transform="translate(372.570,37) scale(0.007326,-0.007326)" d="M763,0 L583,0 L583,1147 Q518,1085 412,1022 Q306,960 233,936 L233,1110 Q384,1181 497,1280 Q610,1380 646,1466 L763,1466 Z" fill="#000" stroke="#000" stroke-width="30.0"/>
<path transform="translate(550.570,226) scale(0.007326,-0.007326)" d="M763,0 L583,0 L583,1147 Q518,1085 412,1022 Q306,960 233,936 L233,1110 Q384,1181 497,1280 Q610,1380 646,1466 L763,1466 Z" fill="#000" stroke="#000" stroke-width="30.0"/>
<path transform="translate(593.570,226) scale(0.007326,-0.007326)" d="M763,0 L583,0 L583,1147 Q518,1085 412,1022 Q306,960 233,936 L233,1110 Q384,1181 497,1280 Q610,1380 646,1466 L763,1466 Z" fill="#000" stroke="#000" stroke-width="30.0"/>
<path transform="translate(635.570,226) scale(0.007326,-0.007326)" d="M763,0 L583,0 L583,1147 Q518,1085 412,1022 Q306,960 233,936 L233,1110 Q384,1181 497,1280 Q610,1380 646,1466 L763,1466 Z" fill="#000" stroke="#000" stroke-width="30.0"/>
<path transform="translate(424.946,76) scale(0.005281,-0.005281)" d="M763,0 L583,0 L583,1147 Q518,1085 412,1022 Q306,960 233,936 L233,1110 Q384,1181 497,1280 Q610,1380 646,1466 L763,1466 Z" fill="#000" stroke="#000" stroke-width="41.7"/>
<path transform="translate(424.946,90) scale(0.005281,-0.005281)" d="M763,0 L583,0 L583,1147 Q518,1085 412,1022 Q306,960 233,936 L233,1110 Q384,1181 497,1280 Q610,1380 646,1466 L763,1466 Z" fill="#000" stroke="#000" stroke-width="41.7"/>
</svg>
</body></html>
